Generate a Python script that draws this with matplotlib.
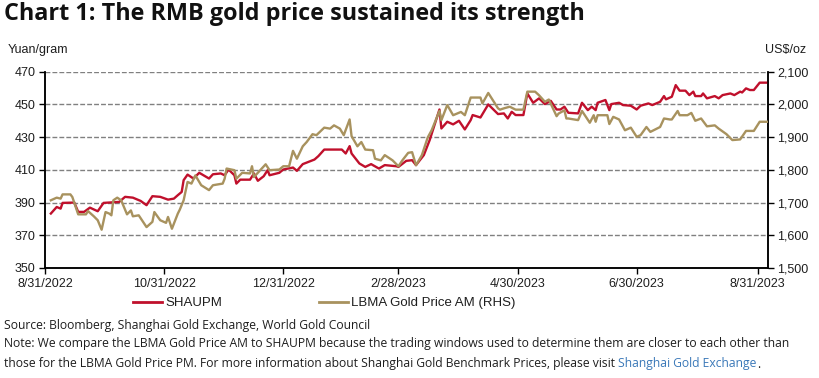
import matplotlib
matplotlib.use("Agg")
import matplotlib.pyplot as plt
import matplotlib.ticker as mticker
import pandas as pd

# ---------------- data ----------------
shaupm_dates = [
    "2022-09-03", "2022-09-06", "2022-09-08", "2022-09-09", "2022-09-15", "2022-09-17", "2022-09-20",
    "2022-09-23", "2022-09-27", "2022-09-30", "2022-10-08", "2022-10-11", "2022-10-15", "2022-10-19",
    "2022-10-22", "2022-10-25", "2022-10-29", "2022-11-02", "2022-11-05", "2022-11-07", "2022-11-09",
    "2022-11-10", "2022-11-12", "2022-11-15", "2022-11-18", "2022-11-23", "2022-11-25", "2022-11-29",
    "2022-12-01", "2022-12-03", "2022-12-06", "2022-12-07", "2022-12-09", "2022-12-14", "2022-12-16",
    "2022-12-18", "2022-12-21", "2022-12-23", "2022-12-24", "2022-12-29", "2022-12-31", "2023-01-05",
    "2023-01-07", "2023-01-10", "2023-01-13", "2023-01-16", "2023-01-18", "2023-01-21", "2023-01-30",
    "2023-02-01", "2023-02-03", "2023-02-04", "2023-02-08", "2023-02-11", "2023-02-14", "2023-02-18",
    "2023-02-21", "2023-02-27", "2023-02-28", "2023-03-04", "2023-03-07", "2023-03-09", "2023-03-13",
    "2023-03-16", "2023-03-21", "2023-03-22", "2023-03-25", "2023-03-28", "2023-03-31", "2023-04-03",
    "2023-04-06", "2023-04-07", "2023-04-11", "2023-04-15", "2023-04-20", "2023-04-23", "2023-04-25",
    "2023-04-27", "2023-04-29", "2023-05-03", "2023-05-05", "2023-05-08", "2023-05-11", "2023-05-14",
    "2023-05-17", "2023-05-20", "2023-05-22", "2023-05-24", "2023-05-26", "2023-05-31", "2023-06-02",
    "2023-06-05", "2023-06-07", "2023-06-09", "2023-06-10", "2023-06-14", "2023-06-16", "2023-06-17",
    "2023-06-21", "2023-06-23", "2023-06-27", "2023-06-30", "2023-07-02", "2023-07-06", "2023-07-08",
    "2023-07-12", "2023-07-14", "2023-07-15", "2023-07-18", "2023-07-20", "2023-07-22", "2023-07-25",
    "2023-07-27", "2023-07-29", "2023-07-30", "2023-08-02", "2023-08-03", "2023-08-05", "2023-08-09",
    "2023-08-11", "2023-08-13", "2023-08-17", "2023-08-19", "2023-08-22", "2023-08-23", "2023-08-25",
    "2023-08-27", "2023-08-29", "2023-09-01", "2023-09-05",
]
shaupm_values = [
    383.3, 387.3, 386.3, 389.8, 390.0, 384.3, 384.3,
    386.9, 384.7, 389.8, 390.4, 393.5, 393.0, 391.0,
    388.4, 393.9, 393.5, 391.8, 392.4, 394.5, 396.5,
    403.7, 407.1, 404.7, 408.2, 404.7, 407.3, 407.8,
    406.7, 410.2, 406.7, 401.6, 404.0, 404.0, 407.8,
    403.3, 406.1, 409.8, 406.7, 408.2, 410.2, 411.4,
    409.4, 413.5, 414.9, 416.3, 418.4, 422.4, 422.4,
    420.0, 424.5, 420.0, 413.9, 411.8, 413.5, 410.8,
    412.9, 412.2, 411.8, 415.5, 415.9, 412.9, 419.0,
    428.2, 446.9, 435.3, 439.4, 437.8, 440.0, 434.7,
    440.4, 443.5, 442.0, 450.0, 444.1, 444.5, 441.4,
    445.5, 443.5, 443.5, 456.7, 451.0, 453.7, 450.2,
    452.2, 446.9, 446.9, 448.6, 444.9, 444.5, 451.0,
    446.5, 448.6, 446.5, 451.0, 452.7, 446.5, 450.2,
    451.0, 449.6, 449.2, 446.9, 449.2, 450.6, 449.6,
    451.6, 455.1, 453.1, 454.7, 461.8, 458.4, 458.4,
    455.7, 457.8, 455.1, 455.1, 456.7, 453.7, 455.1,
    453.7, 455.7, 456.7, 455.7, 457.8, 457.3, 459.8,
    458.8, 458.8, 463.3, 463.3,
]

lbma_dates = [
    "2022-09-03", "2022-09-06", "2022-09-08", "2022-09-09", "2022-09-13", "2022-09-14", "2022-09-17",
    "2022-09-21", "2022-09-22", "2022-09-25", "2022-09-27", "2022-09-29", "2022-10-01", "2022-10-03",
    "2022-10-04", "2022-10-05", "2022-10-07", "2022-10-09", "2022-10-12", "2022-10-14", "2022-10-15",
    "2022-10-18", "2022-10-22", "2022-10-25", "2022-10-26", "2022-10-29", "2022-11-01", "2022-11-02",
    "2022-11-04", "2022-11-07", "2022-11-08", "2022-11-10", "2022-11-12", "2022-11-14", "2022-11-16",
    "2022-11-19", "2022-11-23", "2022-11-25", "2022-11-30", "2022-12-01", "2022-12-02", "2022-12-06",
    "2022-12-07", "2022-12-10", "2022-12-14", "2022-12-15", "2022-12-16", "2022-12-22", "2022-12-24",
    "2022-12-29", "2022-12-31", "2023-01-03", "2023-01-05", "2023-01-07", "2023-01-10", "2023-01-12",
    "2023-01-15", "2023-01-17", "2023-01-21", "2023-01-24", "2023-01-26", "2023-01-29", "2023-01-31",
    "2023-02-03", "2023-02-04", "2023-02-07", "2023-02-09", "2023-02-11", "2023-02-15", "2023-02-16",
    "2023-02-19", "2023-02-21", "2023-02-25", "2023-02-28", "2023-03-02", "2023-03-05", "2023-03-07",
    "2023-03-09", "2023-03-12", "2023-03-15", "2023-03-17", "2023-03-21", "2023-03-22", "2023-03-25",
    "2023-03-28", "2023-04-01", "2023-04-03", "2023-04-06", "2023-04-11", "2023-04-12", "2023-04-15",
    "2023-04-20", "2023-04-21", "2023-04-23", "2023-04-26", "2023-04-29", "2023-05-03", "2023-05-05",
    "2023-05-09", "2023-05-11", "2023-05-14", "2023-05-16", "2023-05-20", "2023-05-21", "2023-05-24",
    "2023-05-25", "2023-05-26", "2023-05-31", "2023-06-02", "2023-06-06", "2023-06-08", "2023-06-09",
    "2023-06-10", "2023-06-15", "2023-06-16", "2023-06-18", "2023-06-21", "2023-06-24", "2023-06-27",
    "2023-06-30", "2023-07-02", "2023-07-05", "2023-07-07", "2023-07-12", "2023-07-14", "2023-07-17",
    "2023-07-18", "2023-07-21", "2023-07-22", "2023-07-26", "2023-07-28", "2023-07-30", "2023-08-02",
    "2023-08-05", "2023-08-09", "2023-08-11", "2023-08-15", "2023-08-18", "2023-08-22", "2023-08-25",
    "2023-08-29", "2023-09-01", "2023-09-05",
]
lbma_values = [
    1707, 1715, 1712, 1725, 1725, 1717, 1664,
    1664, 1674, 1658, 1646, 1617, 1671, 1666,
    1661, 1707, 1715, 1707, 1664, 1676, 1658,
    1661, 1625, 1641, 1671, 1646, 1638, 1656,
    1620, 1666, 1678, 1707, 1763, 1758, 1783,
    1753, 1738, 1753, 1758, 1773, 1804, 1799,
    1773, 1791, 1789, 1811, 1778, 1817, 1799,
    1801, 1811, 1811, 1858, 1834, 1872, 1885,
    1909, 1906, 1929, 1926, 1936, 1926, 1906,
    1954, 1903, 1872, 1885, 1862, 1860, 1834,
    1829, 1845, 1829, 1811, 1829, 1852, 1854,
    1814, 1845, 1899, 1921, 1980, 1952, 1998,
    1967, 1977, 1967, 2021, 2021, 2003, 2035,
    1988, 1984, 1988, 1993, 1984, 1984, 2039,
    2039, 2028, 2008, 2015, 1964, 1972, 1982,
    1957, 1957, 1952, 1980, 1944, 1967, 1947,
    1967, 1967, 1940, 1962, 1954, 1921, 1929,
    1901, 1906, 1931, 1916, 1931, 1957, 1954,
    1954, 1980, 1967, 1967, 1974, 1950, 1957,
    1933, 1936, 1926, 1909, 1891, 1893, 1919,
    1919, 1947, 1947,
]

x_tick_dates = ["2022-08-31", "2022-10-31", "2022-12-31", "2023-02-28",
                "2023-04-30", "2023-06-30", "2023-08-31"]
x_tick_labels = ["8/31/2022", "10/31/2022", "12/31/2022", "2/28/2023",
                 "4/30/2023", "6/30/2023", "8/31/2023"]
left_ticks = [350, 370, 390, 410, 430, 450, 470]
right_ticks = [1500, 1600, 1700, 1800, 1900, 2000, 2100]
x_range = ["2022-08-31", "2023-09-05"]

# ---------------- styling ----------------
RED = "#C0102C"
GOLD = "#A8925E"
TICK_FONT = ["Liberation Sans", "DejaVu Sans"]
TEXT_FONT = ["Open Sans", "DejaVu Sans"]
TXT = "#1e1e1e"

W, H = 819, 378
fig = plt.figure(figsize=(W / 100, H / 100), dpi=100)
fig.patch.set_facecolor("white")

L, R, T, B = 45, 767.5, 71.7, 268
ax = fig.add_axes([L / W, 1 - B / H, (R - L) / W, (B - T) / H])
ax2 = ax.twinx()

sd = pd.to_datetime(shaupm_dates)
ld = pd.to_datetime(lbma_dates)
l1, = ax.plot(sd, shaupm_values, color=RED, lw=1.7, solid_joinstyle="round", zorder=3)
l2, = ax2.plot(ld, lbma_values, color=GOLD, lw=1.7, solid_joinstyle="round", zorder=3)

ax.set_xlim(pd.to_datetime(x_range[0]), pd.to_datetime(x_range[1]))
ax.set_ylim(left_ticks[0], left_ticks[-1])
ax2.set_ylim(right_ticks[0], right_ticks[-1])
ax.set_yticks(left_ticks)
ax2.set_yticks(right_ticks)
ax2.yaxis.set_major_formatter(mticker.FuncFormatter(lambda v, p: f"{int(v):,}"))
ax.set_xticks(pd.to_datetime(x_tick_dates))
ax.set_xticklabels(x_tick_labels)

for a in (ax, ax2):
    a.spines["top"].set_visible(False)
    for s in ("left", "right", "bottom"):
        a.spines[s].set_linewidth(1.1)
        a.spines[s].set_color("black")
    a.tick_params(axis="both", direction="out", length=4, width=1.0, color="black",
                  labelsize=9, labelcolor=TXT, pad=3)
    for lab in a.get_xticklabels() + a.get_yticklabels():
        lab.set_family(TICK_FONT)

ax.grid(axis="y", color="#808080", lw=1.0, linestyle=(0, (3.5, 1.5)))
ax.set_axisbelow(True)

# Axis unit labels
fig.text(8 / W, 1 - 50 / H, "Yuan/gram", family=TICK_FONT, fontsize=9, color=TXT,
         ha="left", va="center")
fig.text(806 / W, 1 - 50 / H, "US$/oz", family=TICK_FONT, fontsize=9, color=TXT,
         ha="right", va="center")

# Title
fig.text(4 / W, 1 - 14 / H, "Chart 1: The RMB gold price sustained its strength",
         family=TEXT_FONT, fontweight="bold", fontsize=16.8, color="#111111",
         ha="left", va="center")

# Legend
leg = fig.legend([l1, l2], ["SHAUPM", "LBMA Gold Price AM (RHS)"],
                 loc="center left", bbox_to_anchor=(133 / W, 1 - 303 / H),
                 ncol=2, frameon=False, borderpad=0, borderaxespad=0,
                 handlelength=2.2, handletextpad=0.25, columnspacing=7.3,
                 prop={"family": TICK_FONT, "size": 9.5})
for t in leg.get_texts():
    t.set_color(TXT)
for h in leg.legend_handles:
    h.set_linewidth(2.0)

# Source and note
FS = 8.75
fig.text(4 / W, 1 - 325 / H, "Source: Bloomberg, Shanghai Gold Exchange, World Gold Council",
         family=TEXT_FONT, fontsize=FS, color=TXT, ha="left", va="center")
fig.text(4 / W, 1 - 344 / H,
         "Note: We compare the LBMA Gold Price AM to SHAUPM because the trading windows used to "
         "determine them are closer to each other than",
         family=TEXT_FONT, fontsize=FS, color=TXT, ha="left", va="center")
t3 = fig.text(4 / W, 1 - 364 / H,
              "those for the LBMA Gold Price PM. For more information about Shanghai Gold "
              "Benchmark Prices, please visit ",
              family=TEXT_FONT, fontsize=FS, color=TXT, ha="left", va="center")
fig.canvas.draw()
bb = t3.get_window_extent()
t4 = fig.text(bb.x1 / W, 1 - 364 / H, "Shanghai Gold Exchange",
              family=TEXT_FONT, fontsize=FS, color="#3A78B8", ha="left", va="center")
fig.canvas.draw()
bb4 = t4.get_window_extent()
fig.text((bb4.x1 + 0.5) / W, 1 - 364 / H, ".", family=TEXT_FONT, fontsize=FS, color=TXT,
         ha="left", va="center")

fig.savefig("out.png", dpi=100, facecolor="white")
